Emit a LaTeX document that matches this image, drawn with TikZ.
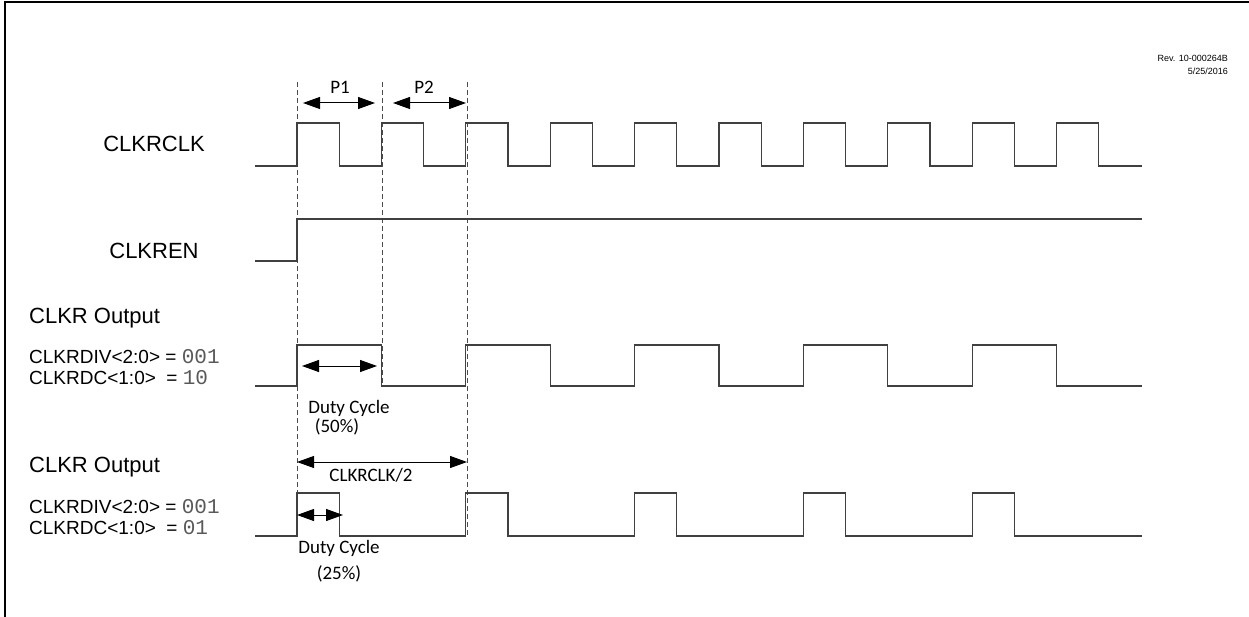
\documentclass[tikz,border=0pt]{standalone}
\usepackage{fontspec}
\setmainfont{Liberation Sans}
\setmonofont{Liberation Mono}
\newfontfamily\calib{Carlito}
\usetikzlibrary{arrows.meta}

\tikzset{
  wave/.style={line width=1.2pt, black!75},
  guide/.style={line width=0.9pt, black!70, dash pattern=on 5pt off 3pt},
  dimarr/.style={line width=1pt, {Triangle[length=17pt,width=12pt]}-{Triangle[length=17pt,width=12pt]}},
  sig/.style={font=\fontsize{22}{26}\selectfont, inner sep=0pt},
  cfg/.style={font=\fontsize{19}{22}\selectfont, inner sep=0pt, anchor=west},
  note/.style={font=\calib\fontsize{19}{22}\selectfont, inner sep=0pt},
  rev/.style={font=\fontsize{9}{11}\selectfont, inner sep=0pt, anchor=east}
}
\newcommand{\regval}[1]{{\ttfamily\fontsize{21}{22}\selectfont\color{black!65}#1}}

\begin{document}
\begin{tikzpicture}[x=1pt, y=-1pt]
  \useasboundingbox (0,0) rectangle (1249,617);
  % Frame
  \draw[line width=2pt] (5,617) -- (5,2) -- (1249,2);
  \node[rev] (revno) at (1228,58) {Rev. 10-000264B};
  \node[rev] (revdate) at (1228,71) {5/25/2016};
  % Reference edges
  \draw[guide] (297,82) -- (297,536);
  \draw[guide] (382,82) -- (382,386);
  \draw[guide] (467,82) -- (467,536);
  % CLKRCLK
  \node[sig] (clkrclk) at (154,144) {CLKRCLK};
  \draw[wave] (255,166) foreach \i in {0,...,9} {
    -- ({297+84.4*\i},166) -- ++(0,-43) -- ++(42.2,0) -- ++(0,43) } -- (1142,166);
  \node[note] (pone) at (340,87) {P1};
  \node[note] (ptwo) at (424,87) {P2};
  \draw[dimarr] (303,103) -- (375,103);
  \draw[dimarr] (393,103) -- (466,103);
  % CLKREN
  \node[sig] (clkren) at (154,251) {CLKREN};
  \draw[wave] (255,261) -- (297,261) -- (297,219) -- (1142,219);
  % CLKR output, 50% duty cycle
  \node[sig, anchor=west] (outa) at (29,318) {CLKR Output};
  \node[cfg] (diva) at (29,357) {CLKRDIV<2:0> = \regval{001}};
  \node[cfg] (dca) at (29,378) {CLKRDC<1:0>\ \ = \regval{10}};
  \draw[wave] (255,386) foreach \i in {0,...,4} {
    -- ({297+168.8*\i},386) -- ++(0,-41) -- ++(84.4,0) -- ++(0,41) } -- (1142,386);
  \draw[dimarr] (302,366) -- (377,366);
  \node[note] (dutya) at (349,408) {Duty Cycle};
  \node[note] (pcta) at (337,427) {(50\%)};
  % CLKR output, 25% duty cycle
  \node[sig, anchor=west] (outb) at (29,467) {CLKR Output};
  \node[cfg] (divb) at (29,507) {CLKRDIV<2:0> = \regval{001}};
  \node[cfg] (dcb) at (29,528) {CLKRDC<1:0>\ \ = \regval{01}};
  \draw[dimarr] (297,462) -- (467,462);
  \node[note] (half) at (371,475) {CLKRCLK/2};
  \draw[wave] (255,536) foreach \i in {0,...,4} {
    -- ({297+168.8*\i},536) -- ++(0,-43) -- ++(42.2,0) -- ++(0,43) } -- (1142,536);
  \draw[dimarr] (297,515) -- (343,515);
  \node[note] (dutyb) at (339,548) {Duty Cycle};
  \node[note] (pctb) at (339,574) {(25\%)};
\end{tikzpicture}
\end{document}
